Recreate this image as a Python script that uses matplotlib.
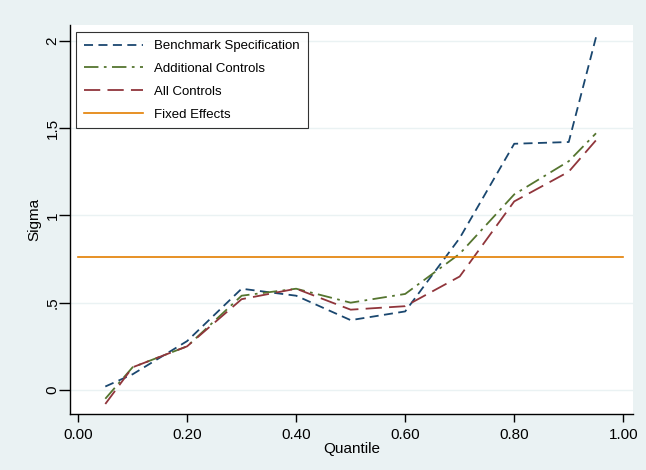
import matplotlib
matplotlib.use('Agg')
import numpy as np
from matplotlib import pyplot as plt

plt.rcParams['font.family'] = ['Liberation Sans', 'DejaVu Sans']

# Quantile-Regression: Sigma je Quantil
quantile = [0.05, 0.10, 0.20, 0.30, 0.40, 0.50, 0.60, 0.70, 0.80, 0.90, 0.95]
benchmark = [0.02, 0.09, 0.28, 0.58, 0.54, 0.40, 0.45, 0.87, 1.41, 1.42, 2.02]
additional = [-0.05, 0.13, 0.25, 0.54, 0.58, 0.50, 0.55, 0.78, 1.12, 1.31, 1.47]
all_controls = [-0.08, 0.13, 0.25, 0.52, 0.58, 0.46, 0.48, 0.65, 1.08, 1.25, 1.43]
fe_x = [0.0, 1.0]
fe_sigma = 0.76

xticks = [0.0, 0.2, 0.4, 0.6, 0.8, 1.0]
xlabels = ['0.00', '0.20', '0.40', '0.60', '0.80', '1.00']
yticks = [0, 0.5, 1, 1.5, 2]
ylabels = ['0', '.5', '1', '1.5', '2']

bg = '#eaf2f3'
fig = plt.figure(figsize=(6.46, 4.70), dpi=100, facecolor=bg)
ax = fig.add_axes([0.1084, 0.1191, 0.8716, 0.8277])
ax.set_facecolor('white')

ax.plot(quantile, benchmark, color='#1a476f', lw=1.3, ls=(0, (5, 3)),
        label='Benchmark Specification')
ax.plot(quantile, additional, color='#55752f', lw=1.3, ls=(0, (8, 3, 1.5, 3)),
        label='Additional Controls')
ax.plot(quantile, all_controls, color='#90353b', lw=1.3, ls=(0, (9, 4)),
        label='All Controls')
ax.plot(fe_x, [fe_sigma, fe_sigma], color='#e37e00', lw=1.2, label='Fixed Effects')

ax.set_xlim(-0.0147, 1.018)
ax.set_ylim(-0.1375, 2.09)
ax.set_xticks(xticks)
ax.set_xticklabels(xlabels, fontsize=11)
ax.set_yticks(yticks)
ax.set_yticklabels(ylabels, fontsize=11, rotation=90, va='center')
ax.grid(axis='y', color=bg, lw=1)
ax.set_axisbelow(True)
for s in ['top', 'right']:
    ax.spines[s].set_visible(False)
for s in ['left', 'bottom']:
    ax.spines[s].set_linewidth(1.0)
ax.tick_params(axis='x', direction='out', length=6, width=1, pad=4)
ax.tick_params(axis='y', direction='out', length=8, width=1, pad=-0.5)
ax.set_xlabel('Quantile', fontsize=11, labelpad=0)
ax.set_ylabel('Sigma', fontsize=11, labelpad=3)

leg = ax.legend(loc='upper left', bbox_to_anchor=(0.0107, 0.982), fontsize=9.5,
                frameon=True, fancybox=False, handlelength=4.5, handletextpad=0.83,
                borderpad=0.6, labelspacing=0.8, borderaxespad=0)
leg.get_frame().set_edgecolor('black')
leg.get_frame().set_linewidth(0.8)

fig.savefig('out.png', dpi=100, facecolor=bg)
